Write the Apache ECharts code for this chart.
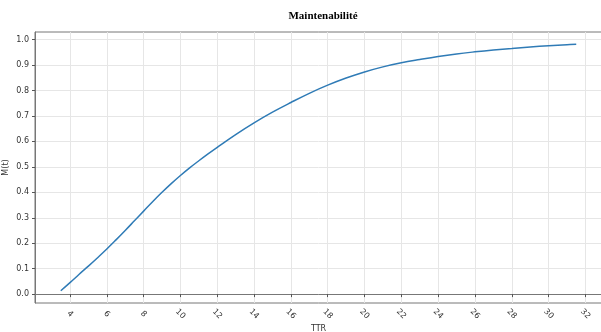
<!DOCTYPE html>
<html>
<head>
<meta charset="utf-8">
<script src="https://cdn.jsdelivr.net/npm/echarts@6/dist/echarts.min.js"></script>
<style>html,body{margin:0;padding:0;background:#fff}#c{width:601px;height:332px}</style>
</head>
<body>
<div id="c"></div>
<script>
const chartTitle = 'Maintenabilité';
const xName = 'TTR';
const yName = 'M(t)';
const ttr = [3.5, 4, 4.5, 5, 5.5, 6, 6.5, 7, 7.5, 8, 8.5, 9, 9.5, 10, 10.5, 11, 11.5, 12, 13, 14, 15, 16, 17, 18, 19, 20, 21, 22, 23, 24, 25, 26, 27, 28, 29, 30, 31, 31.5];
const mt = [0.013, 0.045, 0.078, 0.110, 0.143, 0.177, 0.213, 0.25, 0.288, 0.326, 0.364, 0.40, 0.434, 0.466, 0.496, 0.524, 0.551, 0.577, 0.627, 0.673, 0.715, 0.753, 0.789, 0.821, 0.849, 0.873, 0.893, 0.909, 0.922, 0.934, 0.944, 0.952, 0.959, 0.965, 0.971, 0.976, 0.980, 0.982];
const xTicks = [4, 6, 8, 10, 12, 14, 16, 18, 20, 22, 24, 26, 28, 30, 32];
const yTicks = [0, 0.1, 0.2, 0.3, 0.4, 0.5, 0.6, 0.7, 0.8, 0.9, 1.0];

const chart = echarts.init(document.getElementById('c'), null, {renderer: 'canvas'});
const gridColor = '#e6e6e6';
const axisColor = '#555';
chart.setOption({
  animation: false,
  title: {
    text: chartTitle, left: 318, top: 6, textAlign: 'center',
    textStyle: {fontFamily: 'Liberation Serif', fontWeight: 'bold', fontSize: 11, color: '#000'}
  },
  grid: {left: 35, right: -1, top: 32, bottom: 29, show: true, borderColor: '#777', borderWidth: 1,
    containLabel: false, outerBoundsMode: 'none'},
  xAxis: {
    type: 'value', min: 2.1, max: 32.9,
    name: xName, nameLocation: 'middle', nameGap: 22, nameMoveOverlap: false,
    nameTextStyle: {fontFamily: 'DejaVu Sans', fontSize: 8, color: '#333'},
    axisLine: {show: true, lineStyle: {color: '#777'}},
    axisTick: {show: true, length: 3, lineStyle: {color: axisColor}, customValues: xTicks},
    axisLabel: {customValues: xTicks, rotate: -45, align: 'center', verticalAlign: 'middle', margin: 11,
      fontFamily: 'DejaVu Sans', fontSize: 8, color: '#333', formatter: v => String(v)},
    splitLine: {show: true, lineStyle: {color: gridColor, width: 1}}
  },
  yAxis: {
    type: 'value', min: -0.035, max: 1.03,
    name: yName, nameLocation: 'middle', nameGap: 25, nameRotate: 90, nameMoveOverlap: false,
    nameTextStyle: {fontFamily: 'DejaVu Sans', fontSize: 8, color: '#333'},
    axisLine: {show: true, lineStyle: {color: '#777'}},
    axisTick: {show: true, length: 3, lineStyle: {color: axisColor}, customValues: yTicks},
    axisLabel: {customValues: yTicks, margin: 6, fontFamily: 'DejaVu Sans', fontSize: 8, color: '#333',
      formatter: v => v.toFixed(1)},
    splitLine: {show: true, lineStyle: {color: gridColor, width: 1}}
  },
  series: [{
    type: 'line', data: ttr.map((x, i) => [x, mt[i]]), smooth: 0.4, showSymbol: false,
    lineStyle: {color: '#2f7bb6', width: 1.5}
  }]
});
</script>
</body>
</html>
